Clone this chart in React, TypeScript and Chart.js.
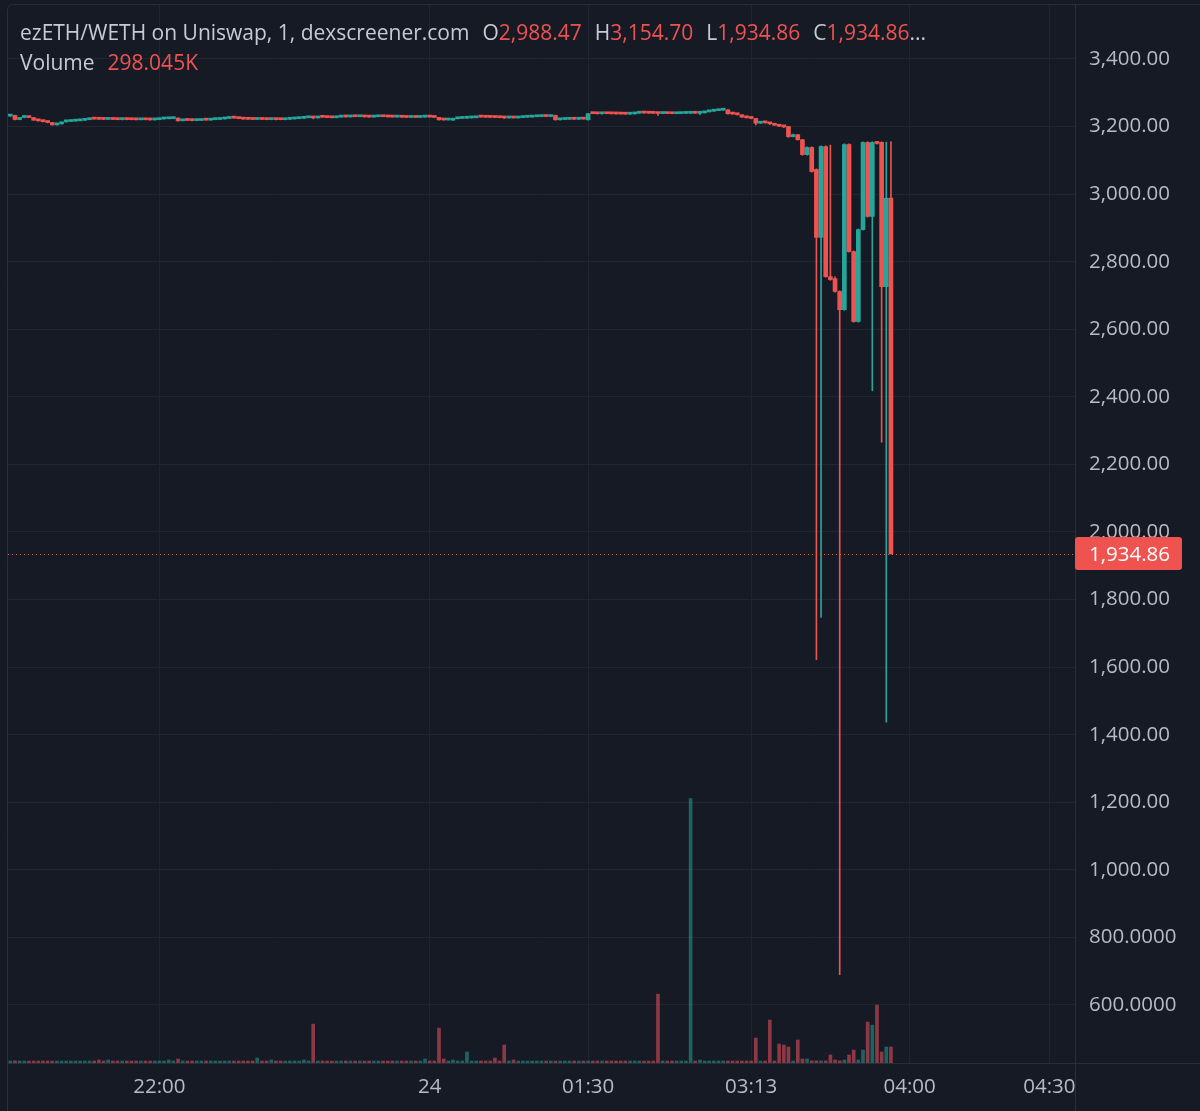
import React, { useEffect, useRef } from "react";
import { Chart, registerables } from "chart.js";

Chart.register(...registerables);

// ---------- data (1-minute candles, ezETH/WETH) ----------
const OPEN = [
  3231, 3233, 3221, 3227, 3228, 3226.5, 3219, 3217, 3214.5, 3212,
  3205, 3208, 3214, 3215, 3216, 3217, 3218.5, 3220.5, 3222.5, 3222,
  3221.6, 3221.2, 3221.5, 3221, 3220.6, 3221, 3220.6, 3220.3, 3220, 3220.4,
  3220, 3219.7, 3220.5, 3222.5, 3223, 3223.5, 3225, 3217, 3218.5, 3218,
  3217.6, 3218, 3219.5, 3219, 3220.5, 3221, 3222.5, 3224, 3225.5, 3225,
  3223.5, 3222, 3221.5, 3221, 3221.4, 3221, 3220.6, 3221, 3220.6, 3220.3,
  3221.5, 3222.5, 3223.5, 3224.5, 3226, 3227, 3225.5, 3229, 3227.5, 3226.5,
  3226, 3228, 3229, 3228.5, 3229.5, 3229, 3229.5, 3228.5, 3228, 3229,
  3229.5, 3229, 3228.5, 3228, 3228.5, 3227.5, 3227, 3227.5, 3227, 3228,
  3228.5, 3228, 3227, 3220, 3219.5, 3219, 3223, 3224, 3224.8, 3225.5,
  3226, 3228.5, 3228, 3227.6, 3227.2, 3226.8, 3226.2, 3225.5, 3225.8, 3225.4,
  3226.5, 3227.5, 3228, 3229, 3229.5, 3230, 3229.6, 3233, 3220, 3221,
  3221.5, 3222, 3221.6, 3222.4, 3220, 3238.5, 3238.2, 3237.9, 3238.3, 3238,
  3237.7, 3237.4, 3237, 3236.7, 3237.5, 3239.5, 3240.5, 3240, 3239.6, 3239.2,
  3238.5, 3238.9, 3238.4, 3238, 3238.5, 3238.9, 3239.3, 3239.8, 3239.4, 3240.5,
  3243.5, 3245.5, 3247, 3248.5, 3249.5, 3238, 3237, 3235, 3228, 3226,
  3224, 3210, 3212, 3211, 3208, 3204, 3201, 3200, 3170, 3176,
  3161, 3117, 3138, 3073, 2872, 3141, 2756, 2750, 2712, 2658,
  3147, 2830, 2623, 2895, 3153, 2934, 3154, 3153, 2726, 2988.47,
];
const CLOSE = [
  3233, 3221, 3227, 3228, 3226.5, 3219, 3217, 3214.5, 3212, 3205,
  3208, 3214, 3215, 3216, 3217, 3218.5, 3220.5, 3222.5, 3222, 3221.6,
  3221.2, 3221.5, 3221, 3220.6, 3221, 3220.6, 3220.3, 3220, 3220.4, 3220,
  3219.7, 3220.5, 3222.5, 3223, 3223.5, 3224, 3217, 3218.5, 3218, 3217.6,
  3218, 3219.5, 3219, 3220.5, 3221, 3222.5, 3224, 3225.5, 3225, 3223.5,
  3222, 3221.5, 3221, 3221.4, 3221, 3220.6, 3221, 3220.6, 3220.3, 3221.5,
  3222.5, 3223.5, 3224.5, 3226, 3227, 3225.5, 3229, 3227.5, 3226.5, 3226,
  3228, 3229, 3228.5, 3229.5, 3229, 3229.5, 3228.5, 3228, 3229, 3229.5,
  3229, 3228.5, 3228, 3228.5, 3227.5, 3227, 3227.5, 3227, 3228, 3228.5,
  3228, 3227, 3220, 3219.5, 3220, 3223, 3224, 3224.8, 3225.5, 3226,
  3226.5, 3228, 3227.6, 3227.2, 3226.8, 3226.2, 3225.5, 3225.8, 3225.4, 3226.5,
  3227.5, 3228, 3229, 3229.5, 3230, 3229.6, 3230.2, 3220, 3221, 3221.5,
  3222, 3221.6, 3222.4, 3222, 3238, 3238.2, 3237.9, 3238.3, 3238, 3237.7,
  3237.4, 3237, 3236.7, 3237.5, 3239.5, 3240.5, 3240, 3239.6, 3239.2, 3238.5,
  3238.9, 3238.4, 3238, 3238.5, 3238.9, 3239.3, 3239.8, 3239.4, 3240.5, 3243.5,
  3245.5, 3247, 3248.5, 3249.5, 3238, 3237, 3235, 3228, 3226, 3224,
  3210, 3212, 3211, 3208, 3204, 3201, 3199, 3170, 3176, 3161,
  3117, 3138, 3067, 2872, 3141, 2756, 2747, 2712, 2658, 3147,
  2830, 2623, 2895, 3153, 2934, 3153, 3150, 2726, 2988, 1934.86,
];
const HIGH = [
  3234, 3234, 3227, 3229, 3228, 3227, 3219, 3217, 3215, 3212,
  3208, 3214, 3215, 3216, 3217, 3219, 3221, 3223, 3223, 3222,
  3222, 3222, 3222, 3221, 3221, 3221, 3221, 3221, 3221, 3221,
  3220, 3221, 3223, 3223, 3224, 3225, 3226, 3219, 3219, 3218,
  3218, 3220, 3220, 3221, 3221, 3223, 3224, 3226, 3226, 3225,
  3224, 3222, 3222, 3222, 3222, 3221, 3221, 3221, 3221, 3222,
  3223, 3224, 3225, 3226, 3227, 3228, 3229, 3229, 3228, 3227,
  3228, 3229, 3229, 3230, 3230, 3230, 3230, 3229, 3229, 3230,
  3230, 3229, 3229, 3229, 3229, 3228, 3228, 3228, 3228, 3229,
  3229, 3228, 3227, 3220, 3220, 3223, 3224, 3225, 3226, 3226,
  3227, 3229, 3228, 3228, 3228, 3227, 3227, 3226, 3226, 3227,
  3228, 3228, 3229, 3230, 3230, 3230, 3233, 3234, 3221, 3222,
  3222, 3222, 3223, 3223, 3239, 3239, 3239, 3239, 3239, 3238,
  3238, 3238, 3237, 3238, 3240, 3241, 3241, 3240, 3240, 3240,
  3239, 3239, 3239, 3239, 3239, 3240, 3240, 3240, 3241, 3244,
  3246, 3247, 3249, 3250, 3250, 3238, 3237, 3235, 3228, 3226,
  3224, 3213, 3213, 3212, 3208, 3205, 3202, 3201, 3178, 3177,
  3162, 3140, 3140, 3075, 3143, 3143, 3145, 2755, 2714, 3149,
  3149, 2832, 2897, 3155, 3155, 3155, 3155, 3155, 3154, 3154.7,
];
const LOW = [
  3230, 3220, 3220, 3226, 3226, 3218, 3216, 3214, 3211, 3204,
  3204, 3207, 3213, 3215, 3216, 3217, 3218, 3220, 3222, 3221,
  3221, 3221, 3221, 3220, 3220, 3220, 3220, 3220, 3220, 3220,
  3219, 3219, 3220, 3222, 3223, 3223, 3216, 3217, 3218, 3217,
  3217, 3218, 3219, 3219, 3220, 3221, 3222, 3224, 3225, 3223,
  3222, 3221, 3221, 3221, 3221, 3220, 3220, 3220, 3220, 3220,
  3221, 3222, 3223, 3224, 3226, 3223, 3225, 3227, 3226, 3226,
  3226, 3228, 3228, 3228, 3229, 3229, 3228, 3228, 3228, 3229,
  3229, 3228, 3228, 3228, 3227, 3227, 3227, 3227, 3227, 3228,
  3228, 3227, 3219, 3219, 3219, 3218, 3223, 3224, 3224, 3225,
  3226, 3228, 3227, 3227, 3226, 3226, 3224, 3225, 3225, 3225,
  3226, 3227, 3228, 3229, 3229, 3229, 3229, 3219, 3219, 3221,
  3221, 3221, 3221, 3222, 3219, 3238, 3237, 3237, 3238, 3237,
  3237, 3237, 3236, 3236, 3237, 3239, 3240, 3239, 3239, 3233,
  3238, 3238, 3238, 3238, 3238, 3239, 3239, 3239, 3235, 3240,
  3243, 3245, 3247, 3248, 3237, 3236, 3234, 3227, 3225, 3223,
  3205, 3209, 3210, 3206, 3203, 3200, 3197, 3168, 3169, 3160,
  3115, 3115, 3065, 1622, 1747, 2754, 2745, 2710, 690, 2656,
  2828, 2621, 2621, 2893, 2932, 2418, 3148, 2266, 1437, 1934.86,
];
// volume in thousands
const VOLUME = [
  37, 40, 37, 37, 37, 37, 37, 37, 37, 37,
  37, 37, 37, 37, 37, 37, 37, 37, 37, 56,
  37, 56, 37, 37, 37, 37, 37, 37, 37, 37,
  37, 37, 37, 37, 56, 37, 74, 37, 37, 37,
  37, 37, 37, 37, 37, 37, 37, 37, 37, 37,
  37, 37, 37, 93, 37, 37, 56, 37, 37, 37,
  37, 37, 37, 56, 37, 725, 37, 37, 37, 37,
  37, 37, 37, 37, 37, 37, 37, 37, 37, 37,
  37, 37, 37, 37, 37, 37, 37, 37, 37, 74,
  37, 37, 650, 74, 37, 56, 37, 37, 205, 37,
  37, 37, 37, 37, 93, 37, 335, 37, 56, 37,
  37, 37, 37, 37, 37, 37, 37, 37, 37, 37,
  37, 37, 37, 37, 37, 37, 37, 37, 37, 37,
  37, 37, 37, 37, 37, 37, 37, 37, 37, 1283,
  37, 37, 37, 37, 37, 37, 4930, 37, 56, 37,
  37, 37, 37, 37, 37, 37, 37, 37, 37, 37,
  465, 37, 37, 800, 37, 353, 335, 298, 37, 428,
  74, 74, 40, 40, 40, 40, 150, 56, 40, 56,
  150, 242, 56, 242, 763, 707, 1079, 205, 298, 298.045,
];

const SLOT_COUNT = 229;
const TIME_TICK_INDEX = [32, 90, 124, 159, 193, 223];
const TIME_TICK_TEXT = ["22:00", "24", "01:30", "03:13", "04:00", "04:30"];
const PRICE_TICKS = [600, 800, 1000, 1200, 1400, 1600, 1800, 2000, 2200, 2400, 2600, 2800, 3000, 3200, 3400];
const PRICE_MIN = 428.3;
const PRICE_MAX = 3559.8;
const PAIR_TITLE = "ezETH/WETH on Uniswap, 1, dexscreener.com";

// ---------- styles ----------
const BG = "#161a25";
const GRID = "#212530";
const SEP = "#2a2e39";
const TEXT = "#b8bbc3";
const HEAD_TEXT = "#c8cbd2";
const UP = "#26a69a";
const DOWN = "#ef5350";
const UP_VOL = "rgba(38,166,154,0.52)";
const DOWN_VOL = "rgba(239,83,96,0.55)";
const FONT = '"Open Sans", "Noto Sans", sans-serif';
const AXIS_FONT_SIZE = 20.5;
const HEAD_FONT_SIZE = 21;

const fmtPrice = (v: number) =>
  v >= 1000
    ? v.toLocaleString("en-US", { minimumFractionDigits: 2, maximumFractionDigits: 2 })
    : v.toFixed(4);

export default function App() {
  const canvasRef = useRef<HTMLCanvasElement | null>(null);

  useEffect(() => {
    const canvas = canvasRef.current;
    if (!canvas) return;
    const labels: string[] = Array.from({ length: SLOT_COUNT }, () => "");
    TIME_TICK_INDEX.forEach((idx, k) => {
      labels[idx] = TIME_TICK_TEXT[k];
    });
    const isUp = OPEN.map((o, i) => CLOSE[i] >= o);
    const candleColors = isUp.map((u) => (u ? UP : DOWN));
    const volColors = isUp.map((u) => (u ? UP_VOL : DOWN_VOL));
    const lastPrice = CLOSE[CLOSE.length - 1];

    const framePlugin = {
      id: "frame",
      beforeDraw(chart: any) {
        const { ctx, width, height } = chart;
        ctx.save();
        ctx.fillStyle = BG;
        ctx.fillRect(0, 0, width, height);
        ctx.restore();
      },
      afterDatasetsDraw(chart: any) {
        const { ctx, chartArea } = chart;
        const y = Math.round(chart.scales.y.getPixelForValue(lastPrice)) + 0.5;
        ctx.save();
        ctx.strokeStyle = DOWN;
        ctx.lineWidth = 1;
        ctx.setLineDash([1, 3]);
        ctx.beginPath();
        ctx.moveTo(chartArea.left, y);
        ctx.lineTo(chartArea.right, y);
        ctx.stroke();
        ctx.restore();
      },
      afterDraw(chart: any) {
        const { ctx, chartArea, width, height } = chart;
        ctx.save();
        ctx.strokeStyle = SEP;
        ctx.lineWidth = 1;
        const fx = chartArea.left - 0.5;
        const fy = chartArea.top - 0.5;
        ctx.beginPath();
        ctx.moveTo(fx, height);
        ctx.lineTo(fx, fy + 6);
        ctx.quadraticCurveTo(fx, fy, fx + 6, fy);
        ctx.lineTo(width, fy);
        ctx.stroke();
        ctx.beginPath();
        ctx.moveTo(Math.round(chartArea.right) + 0.5, fy);
        ctx.lineTo(Math.round(chartArea.right) + 0.5, height);
        ctx.moveTo(fx, Math.round(chartArea.bottom) + 0.5);
        ctx.lineTo(width, Math.round(chartArea.bottom) + 0.5);
        ctx.stroke();
        const y = chart.scales.y.getPixelForValue(lastPrice);
        const bx = Math.round(chartArea.right);
        const bw = 107;
        const bh = 33;
        ctx.fillStyle = DOWN;
        ctx.beginPath();
        (ctx as any).roundRect(bx, Math.round(y - bh / 2), bw, bh, 3);
        ctx.fill();
        ctx.fillStyle = "#ffffff";
        ctx.font = `500 ${AXIS_FONT_SIZE}px ${FONT}`;
        ctx.textBaseline = "middle";
        ctx.textAlign = "left";
        ctx.fillText(fmtPrice(lastPrice), bx + 14, y + 1);
        ctx.restore();
      },
    };

    const chart = new Chart(canvas, {
      type: "bar",
      data: {
        labels,
        datasets: [
          {
            label: "Volume",
            data: VOLUME,
            yAxisID: "vol",
            backgroundColor: volColors,
            barThickness: 3,
            grouped: false,
            order: 3,
          } as any,
          {
            label: "Wick",
            data: LOW.map((l, i) => [l, HIGH[i]]),
            yAxisID: "y",
            backgroundColor: candleColors,
            barThickness: 1,
            grouped: false,
            order: 2,
          } as any,
          {
            label: "Body",
            data: OPEN.map((o, i) => [o, CLOSE[i]]),
            yAxisID: "y",
            backgroundColor: candleColors,
            barThickness: 4,
            minBarLength: 2,
            grouped: false,
            order: 1,
          } as any,
        ],
      },
      options: {
        animation: false,
        responsive: false,
        events: [],
        layout: { padding: { left: 8, top: 5, right: 0, bottom: 0 } },
        plugins: { legend: { display: false }, tooltip: { enabled: false } },
        scales: {
          x: {
            type: "category",
            offset: true,
            grid: { offset: false, color: GRID, drawTicks: false },
            border: { display: false },
            ticks: {
              autoSkip: false,
              maxRotation: 0,
              color: TEXT,
              padding: 12,
              font: { family: FONT, size: AXIS_FONT_SIZE },
              callback: function (this: any, value: any) {
                const t = this.getLabelForValue(value);
                return t === "" ? null : t;
              },
            },
            afterFit: (s: any) => {
              s.height = 48;
              s.paddingLeft = 0;
              s.paddingRight = 0;
            },
          },
          y: {
            type: "linear",
            position: "right",
            min: PRICE_MIN,
            max: PRICE_MAX,
            afterBuildTicks: (s: any) => {
              s.ticks = PRICE_TICKS.map((v) => ({ value: v }));
            },
            afterFit: (s: any) => {
              s.width = 125;
              s.paddingTop = 0;
              s.paddingBottom = 0;
            },
            grid: { color: GRID, drawTicks: false },
            border: { display: false },
            ticks: {
              color: TEXT,
              padding: 14,
              font: { family: FONT, size: AXIS_FONT_SIZE },
              callback: (v: any) => fmtPrice(Number(v)),
            },
          },
          vol: {
            type: "linear",
            display: false,
            min: 0,
            max: Math.max(...VOLUME) * 4,
          },
        },
      } as any,
      plugins: [framePlugin],
    });
    return () => chart.destroy();
  }, []);

  const last = CLOSE.length - 1;
  const red = { color: DOWN };
  const gap = { marginLeft: 13 };
  const headStyle: React.CSSProperties = {
    position: "absolute",
    left: 20,
    font: `${HEAD_FONT_SIZE}px ${FONT}`,
    lineHeight: "28px",
    color: HEAD_TEXT,
    whiteSpace: "nowrap",
  };
  return (
    <div
      style={{
        position: "fixed",
        left: 0,
        top: 0,
        width: 1200,
        height: 1111,
        overflow: "hidden",
        background: BG,
      }}
    >
      <canvas ref={canvasRef} width={1200} height={1111} style={{ display: "block", width: 1200, height: 1111 }} />
      <div style={{ ...headStyle, top: 18 }}>
        <span>{PAIR_TITLE}</span>
        <span style={gap}>O</span>
        <span style={red}>{fmtPrice(OPEN[last])}</span>
        <span style={gap}>H</span>
        <span style={red}>{fmtPrice(HIGH[last])}</span>
        <span style={gap}>L</span>
        <span style={red}>{fmtPrice(LOW[last])}</span>
        <span style={gap}>C</span>
        <span style={red}>{fmtPrice(CLOSE[last])}</span>
        <span>...</span>
      </div>
      <div style={{ ...headStyle, top: 48 }}>
        <span>Volume</span>
        <span style={{ ...red, marginLeft: 13 }}>{VOLUME[last].toFixed(3)}K</span>
      </div>
    </div>
  );
}
